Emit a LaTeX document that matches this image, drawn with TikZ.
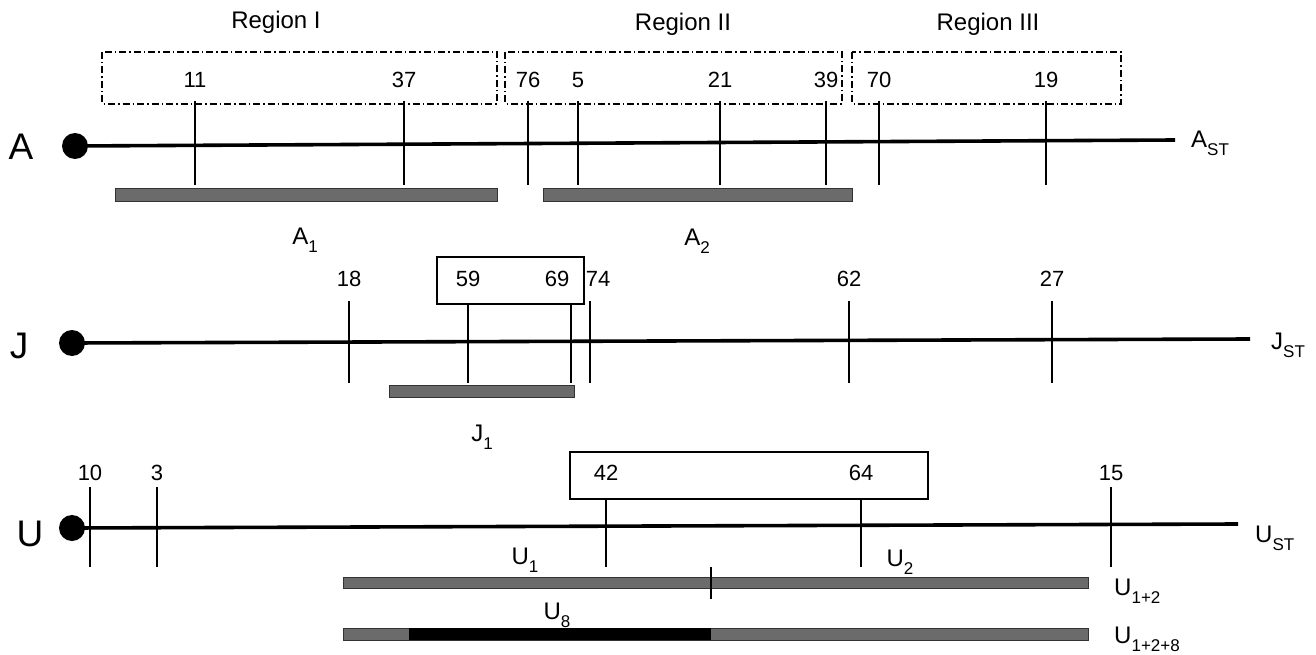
\documentclass[tikz,border=0pt]{standalone}
\usepackage{fontspec}
\setmainfont{Liberation Sans}
% lowered subscript used in the segment names
\newcommand{\lo}[1]{\raisebox{-8pt}{\fontsize{17}{17}\selectfont #1}}
\begin{document}
\begin{tikzpicture}[x=1pt,y=-1pt,
  chrom/.style={line width=3.6pt},
  tick/.style={line width=2.3pt},
  dot/.style={circle,fill=black,minimum size=26pt,inner sep=0pt},
  num/.style={font=\fontsize{22}{22}\selectfont,inner sep=0pt,anchor=base},
  big/.style={font=\fontsize{37}{37}\selectfont,inner sep=0pt,anchor=base},
  lab/.style={font=\fontsize{24}{24}\selectfont,inner sep=0pt,anchor=base},
  endlab/.style={lab,anchor=base west},
  region/.style={draw,line width=1.1pt,dash pattern=on 7pt off 3pt on 1.5pt off 3pt},
  segbox/.style={draw,line width=1.3pt},
  bar/.style={draw=black!80,fill=black!58,line width=1pt},
  blackbar/.style={fill=black},
]
\useasboundingbox (0,0) rectangle (1316,655);

% ---------------- chromosome A ----------------
\node[lab] (r1) at (276,29) {Region I};
\node[lab] (r2) at (683,31) {Region II};
\node[lab] (r3) at (988,31) {Region III};
\draw[region] (102,52) rectangle (497,104);
\draw[region] (505,52) rectangle (842,104);
\draw[region] (852,52) rectangle (1121,104);

\node[big] (A) at (21,160) {A};
\node[dot] (Adot) at (75,146) {};
\coordinate (Aend) at (1175,140);
\draw[chrom] (Adot.center) -- (Aend);
\node[endlab] (Ast) at (1191,148) {A\lo{ST}};

\foreach \x/\t in {195/11,404/37,528/76,578/5,720/21,826/39,879/70,1046/19}{
  \node[num] at (\x,88) {\t};
  \draw[tick] (\x,101) -- (\x,185);
}
\draw[bar] (115,189) rectangle (497,201);
\draw[bar] (543,189) rectangle (852,201);
\node[lab] (A1) at (305,244) {A\lo{1}};
\node[lab] (A2) at (697,245) {A\lo{2}};

% ---------------- chromosome J ----------------
\node[big] (J) at (19,358) {J};
\node[dot] (Jdot) at (72,343) {};
\coordinate (Jend) at (1250,339);
\draw[chrom] (Jdot.center) -- (Jend);
\node[endlab] (Jst) at (1271,349) {J\lo{ST}};

\draw[segbox] (437,257) rectangle (584,304);
\foreach \x/\t in {349/18,598/74,849/62,1052/27}{
  \node[num] at (\x,286) {\t};
}
\node[num] at (468,286) {59};
\node[num] at (557,286) {69};
\foreach \x in {349,590,849,1052}{ \draw[tick] (\x,301) -- (\x,383); }
\foreach \x in {468,571}{ \draw[tick] (\x,304) -- (\x,383); }
\draw[bar] (389,385) rectangle (574,397);
\node[lab] (J1) at (482,441) {J\lo{1}};

% ---------------- chromosome U ----------------
\node[big] (U) at (30,546) {U};
\node[dot] (Udot) at (72,528) {};
\coordinate (Uend) at (1238,524);
\draw[chrom] (Udot.center) -- (Uend);
\node[endlab] (Ust) at (1255,542) {U\lo{ST}};

\draw[segbox] (570,452) rectangle (928,499);
\foreach \x/\t in {90/10,157/3,606/42,861/64,1111/15}{
  \node[num] at (\x,480) {\t};
}
\foreach \x in {90,157,1111}{ \draw[tick] (\x,487) -- (\x,567); }
\foreach \x in {606,861}{ \draw[tick] (\x,499) -- (\x,567); }

\node[lab] (U1) at (525,564) {U\lo{1}};
\node[lab] (U2) at (900,566) {U\lo{2}};
\draw[bar] (343,577) rectangle (1088,588);
\draw[tick] (711,567) -- (711,599);
\node[endlab] (U12) at (1114,595) {U\lo{1+2}};

\node[lab] (U8) at (557,619) {U\lo{8}};
\draw[bar] (343,628) rectangle (1088,640);
\fill[blackbar] (409,628) rectangle (711,640);
\node[endlab] (U128) at (1114,643) {U\lo{1+2+8}};
\end{tikzpicture}
\end{document}
